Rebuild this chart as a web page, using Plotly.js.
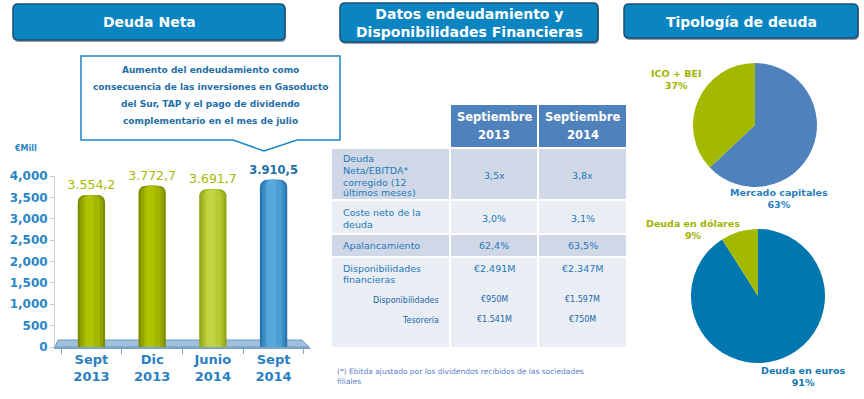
<!DOCTYPE html>
<html><head><meta charset="utf-8">
<script src="https://cdn.plot.ly/plotly-3.0.1.min.js"></script>
<style>html,body{margin:0;padding:0;background:#fff}#chart{width:864px;height:399px}</style>
</head><body><div id="chart"></div>
<script>
// ---------- DATA ----------
const periods = ["Sept<br>2013", "Dic<br>2013", "Junio<br>2014", "Sept<br>2014"];
const netDebt = [3554.2, 3772.7, 3691.7, 3910.5];
const yTickValues = [0, 500, 1000, 1500, 2000, 2500, 3000, 3500, 4000];
const unitLabel = "€Mill";

const calloutLines = [
  "Aumento del endeudamiento como",
  "consecuencia de las inversiones en Gasoducto",
  "del Sur, TAP y el pago de dividendo",
  "complementario en el mes de julio"
];

const tableHeaders = ["Septiembre<br>2013", "Septiembre<br>2014"];
const tableRowLabels = ["Deuda<br>Neta/EBITDA*<br>corregido (12<br>últimos meses)", "Coste neto de la<br>deuda", "Apalancamiento", "Disponibilidades<br>financieras"];
const tableSep2013 = ["3,5x", "3,0%", "62,4%", "€2.491M"];
const tableSep2014 = ["3,8x", "3,1%", "63,5%", "€2.347M"];
const subRowLabels = ["Disponibilidades", "Tesorería"];
const subSep2013 = ["€950M", "€1.541M"];
const subSep2014 = ["€1.597M", "€750M"];
const footnote = "(*) Ebitda ajustado por los dividendos recibidos de las sociedades<br>filiales";

const debtTypeLabels = ["Mercado capitales", "ICO + BEI"];
const debtTypeValues = [63, 37];
const currencyLabels = ["Deuda en euros", "Deuda en dólares"];
const currencyValues = [91, 9];

const panelTitles = ["Deuda Neta", "Datos endeudamiento y<br>Disponibilidades Financieras", "Tipología de deuda"];

// ---------- HELPERS ----------
const W = 864, H = 399;
const FONT = "DejaVu Sans, Verdana, sans-serif";
const px = x => x / W, py = y => 1 - y / H;
const P = (x, y) => px(x) + "," + py(y);
function rrect(x0, y0, x1, y1, r) {
  return `M ${P(x0 + r, y0)} L ${P(x1 - r, y0)} Q ${P(x1, y0)} ${P(x1, y0 + r)} L ${P(x1, y1 - r)} Q ${P(x1, y1)} ${P(x1 - r, y1)} L ${P(x0 + r, y1)} Q ${P(x0, y1)} ${P(x0, y1 - r)} L ${P(x0, y0 + r)} Q ${P(x0, y0)} ${P(x0 + r, y0)} Z`;
}
function fmtEs(v) {
  const [i, d] = v.toFixed(1).split(".");
  return i.replace(/\B(?=(\d{3})+(?!\d))/g, ".") + "," + d;
}
const shapes = [], annotations = [];
function txt(text, x, y, size, color, opts = {}) {
  annotations.push(Object.assign({
    text, x: px(x), y: py(y), xref: "paper", yref: "paper", showarrow: false,
    xanchor: "center", yanchor: "middle", align: "center",
    font: { family: FONT, size, color, weight: opts.bold ? "bold" : "normal" }
  }, opts.extra || {}));
}
function rect(x0, y0, x1, y1, fill) {
  shapes.push({ type: "rect", xref: "paper", yref: "paper", x0: px(x0), x1: px(x1), y0: py(y1), y1: py(y0), fillcolor: fill, line: { width: 0 }, layer: "below" });
}

// ---------- TITLE BOXES ----------
const titleBoxes = [[13, 4, 285, 40], [340, 3, 598, 42], [624, 4, 858, 38]];
titleBoxes.forEach((b, i) => {
  shapes.push({ type: "path", xref: "paper", yref: "paper", path: rrect(b[0] + 1, b[1] + 2, b[2] + 1, b[3] + 2, 5), fillcolor: "rgba(20,40,60,0.45)", line: { width: 0 }, layer: "below" });
  shapes.push({ type: "path", xref: "paper", yref: "paper", path: rrect(b[0], b[1], b[2], b[3], 5), fillcolor: "#0a85c2", line: { color: "#1b4e70", width: 1.5 }, layer: "below" });
  txt("<b>" + panelTitles[i] + "</b>", (b[0] + b[2]) / 2, (b[1] + b[3]) / 2 + 0.5, 14, "#ffffff");
});

// ---------- CALLOUT ----------
shapes.push({ type: "path", xref: "paper", yref: "paper", layer: "below",
  path: `M ${P(81, 56)} L ${P(340, 56)} L ${P(340, 140)} L ${P(297, 140)} L ${P(264, 151)} L ${P(233, 140)} L ${P(81, 140)} Z`,
  fillcolor: "#ffffff", line: { color: "#1b87c4", width: 1.5 } });
calloutLines.forEach((l, i) => txt("<b>" + l + "</b>", 210, 70 + i * 17, 9, "#1e6ea8"));

// ---------- BAR CHART ----------
txt("<b>" + unitLabel + "</b>", 25, 148, 8, "#2a86c6");
// floor
shapes.push({ type: "path", xref: "paper", yref: "paper", layer: "below",
  path: `M ${P(58, 340)} L ${P(302, 340)} L ${P(309, 347)} L ${P(55, 347)} Z`,
  fillcolor: "rgba(120,165,205,0.7)", line: { color: "#6a9cc4", width: 1 } });

const last = netDebt.length - 1;
const shade = (i, green, junio, blue) => i === last ? blue : (i === 2 ? junio : green);
const layers = [
  { w: 0.45, r: 7, col: i => shade(i, "#7b8c00", "#92a51a", "#2a76ae") },
  { w: 0.38, r: 7, col: i => shade(i, "#90a300", "#a6b924", "#3a8bc4") },
  { w: 0.28, r: 6, col: i => shade(i, "#a2b600", "#b8cb30", "#4b9dd4") },
  { w: 0.14, r: 4, col: i => shade(i, "#aec200", "#c2d443", "#5aa9dc") }
];
const barText = netDebt.map((v, i) => i === last ? "<b>" + fmtEs(v) + "</b>" : fmtEs(v));
const txtCol = netDebt.map((v, i) => i === last ? "#1f6fa6" : "#a9b800");
const txtSize = netDebt.map((v, i) => i === last ? 11.5 : 12.5);

const traces = layers.map((L, k) => {
  const t = { type: "bar", x: periods, y: netDebt, width: L.w, marker: { color: netDebt.map((v, i) => L.col(i)), cornerradius: L.r, line: { width: 0 } }, hoverinfo: "none" };
  if (k === 3) t.offset = -0.1;
  if (k === 0) Object.assign(t, { text: barText, textposition: "outside", cliponaxis: false, constraintext: "none", textfont: { family: FONT, size: txtSize, color: txtCol } });
  return t;
});
traces.push(
  { type: "pie", values: debtTypeValues, labels: debtTypeLabels, sort: false, direction: "clockwise", rotation: 0,
    marker: { colors: ["#4f81bd", "#a3b900"], line: { width: 0 } }, textinfo: "none", hoverinfo: "none",
    domain: { x: [px(691), px(819)], y: [py(187), py(63)] } },
  { type: "pie", values: currencyValues, labels: currencyLabels, sort: false, direction: "clockwise", rotation: 0,
    marker: { colors: ["#0077ae", "#a3b900"], line: { width: 0 } }, textinfo: "none", hoverinfo: "none",
    domain: { x: [px(691), px(825)], y: [py(363), py(229)] } }
);

// ---------- TABLE ----------
const cols = [[332, 449], [451, 537], [539, 626]];
const headerY = [105, 147];
const rowsY = [[149, 199], [201, 233], [235, 256], [258, 347]];
const rowFill = ["#d0d8e8", "#e9edf4", "#d0d8e8", "#e9edf4"];
const cellColor = "#1f78b8";
[1, 2].forEach(c => {
  rect(cols[c][0], headerY[0], cols[c][1], headerY[1], "#4f81bd");
  const lines = tableHeaders[c - 1].split("<br>");
  lines.forEach((l, k) => txt("<b>" + l + "</b>", (cols[c][0] + cols[c][1]) / 2, 117 + k * 18, 11.5, "#ffffff"));
});
const labelLineY = [[158, 170, 182, 193], [212, 224], [245], [268, 279]];
const valueY = [175, 218, 245, 268];
rowsY.forEach((r, i) => {
  cols.forEach(c => rect(c[0], r[0], c[1], r[1], rowFill[i]));
  tableRowLabels[i].split("<br>").forEach((l, k) => txt(l, 341, labelLineY[i][k], 9.5, cellColor, { extra: { xanchor: "left", align: "left" } }));
  txt(tableSep2013[i], (cols[1][0] + cols[1][1]) / 2, valueY[i], 9.5, cellColor);
  txt(tableSep2014[i], (cols[2][0] + cols[2][1]) / 2, valueY[i], 9.5, cellColor);
});
subRowLabels.forEach((l, k) => {
  const y = 300 + k * 20;
  txt(l, 441, y, 8, "#2366a8", { extra: { xanchor: "right", align: "right" } });
  txt(subSep2013[k], (cols[1][0] + cols[1][1]) / 2, y - 1, 8, "#2366a8");
  txt(subSep2014[k], (cols[2][0] + cols[2][1]) / 2, y - 1, 8, "#2366a8");
});
txt(footnote, 335, 376, 7.5, "#5a80c8", { extra: { xanchor: "left", align: "left" } });

// ---------- PIE LABELS ----------
const pct = (vals, i) => Math.round(vals[i] / vals.reduce((a, b) => a + b, 0) * 100) + "%";
txt("<b>" + debtTypeLabels[1] + "<br>" + pct(debtTypeValues, 1) + "</b>", 676, 79, 9.5, "#9fb300");
txt("<b>" + debtTypeLabels[0] + "<br>" + pct(debtTypeValues, 0) + "</b>", 779, 198, 9.5, "#2a80c0");
txt("<b>" + currencyLabels[1] + "<br>" + pct(currencyValues, 1) + "</b>", 693, 229, 9.5, "#9fb300");
txt("<b>" + currencyLabels[0] + "<br>" + pct(currencyValues, 0) + "</b>", 803, 376, 9.5, "#0f78b4");

const layout = {
  width: W, height: H, margin: { l: 0, r: 0, t: 0, b: 0 },
  paper_bgcolor: "#ffffff", plot_bgcolor: "rgba(0,0,0,0)",
  showlegend: false, barmode: "overlay",
  xaxis: { domain: [px(55), px(310)], type: "category", range: [-0.6, 3.6], tickson: "boundaries",
    ticks: "outside", ticklen: 5, tickcolor: "#7aa4c8", showline: true, linecolor: "#7aa4c8", linewidth: 1.5,
    showgrid: false, zeroline: false, fixedrange: true,
    tickfont: { family: FONT, size: 13, color: "#2a80c2", weight: "bold" } },
  yaxis: { domain: [py(347), py(176)], range: [0, 4000], tickvals: yTickValues, tickformat: ",d",
    ticks: "outside", ticklen: 4, tickcolor: "#c0c8d0", showline: true, linecolor: "#c8d0d8",
    showgrid: false, zeroline: false, fixedrange: true,
    tickfont: { family: FONT, size: 12, color: "#2a86c6", weight: "bold" } },
  shapes, annotations
};
Plotly.newPlot("chart", traces, layout, { displayModeBar: false, staticPlot: true });
</script>
</body></html>
